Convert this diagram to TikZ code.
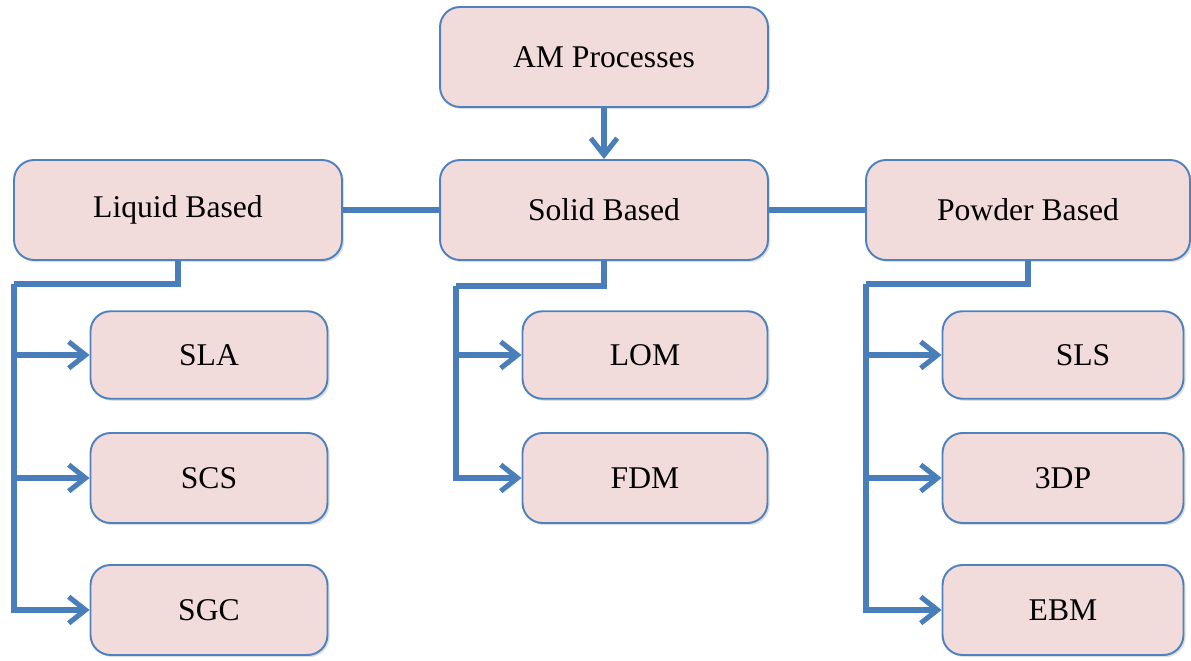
\documentclass[tikz,border=0pt]{standalone}
\usepackage{fontspec}
\setmainfont{Liberation Serif}
\usetikzlibrary{arrows.meta,shadows}
\definecolor{boxfill}{HTML}{F2DCDB}
\definecolor{boxline}{HTML}{4F81BD}
\definecolor{connline}{HTML}{4A7EBB}
\begin{document}
\begin{tikzpicture}[x=0.02cm, y=-0.02cm, font=\fontsize{18}{21}\selectfont,
	procbox/.style={draw=boxline, line width=1.1pt, fill=boxfill, rounded corners=0.4cm,
		drop shadow={opacity=0.25, shadow xshift=1.2pt, shadow yshift=-1.2pt}},
	bigbox/.style={procbox, minimum width=6.56cm, minimum height=2cm},
	smallbox/.style={procbox, minimum width=4.74cm, minimum height=1.75cm},
	conn/.style={draw=connline, line width=2.9pt},
	connarrow/.style={conn, -{Straight Barb[length=9.5pt, width=15pt]}}]
	\useasboundingbox (0,0) rectangle (1191,661);
	% top level
	\node[bigbox] (am) at (604,57) {AM Processes};
	\node[bigbox] (liquid) at (178,210) {Liquid Based};
	\node[bigbox] (solid) at (604,210) {Solid Based};
	\node[bigbox, minimum width=6.48cm] (powder) at (1028,210) {Powder Based};
	% processes
	\node[smallbox] (sla) at (209,355) {SLA};
	\node[smallbox, minimum height=1.8cm] (scs) at (209,478) {SCS};
	\node[smallbox, minimum height=1.8cm] (sgc) at (209,610) {SGC};
	\node[smallbox, minimum width=4.9cm] (lom) at (645,355) {LOM};
	\node[smallbox, minimum width=4.9cm, minimum height=1.8cm] (fdm) at (645,478) {FDM};
	\node[smallbox, minimum width=4.82cm] (sls) at (1063,355) {\hspace*{0.8cm}SLS};
	\node[smallbox, minimum width=4.82cm, minimum height=1.8cm] (tdp) at (1063,478) {3DP};
	\node[smallbox, minimum width=4.82cm, minimum height=1.8cm] (ebm) at (1063,610) {EBM};
	% links
	\draw[connarrow] (am) -- (solid);
	\draw[conn] (liquid) -- (solid);
	\draw[conn] (solid) -- (powder);
	% liquid branch
	\coordinate (lbus) at (14,284);
	\draw[conn] (liquid.south) |- (lbus);
	\draw[connarrow] (lbus) |- (sgc.west);
	\draw[connarrow] (lbus |- sla.west) -- (sla.west);
	\draw[connarrow] (lbus |- scs.west) -- (scs.west);
	% solid branch
	\coordinate (sbus) at (456,286);
	\draw[conn] (solid.south) |- (sbus);
	\draw[connarrow] (sbus) |- (fdm.west);
	\draw[connarrow] (sbus |- lom.west) -- (lom.west);
	% powder branch
	\coordinate (pbus) at (866,284);
	\draw[conn] (powder.south) |- (pbus);
	\draw[connarrow] (pbus) |- (ebm.west);
	\draw[connarrow] (pbus |- sls.west) -- (sls.west);
	\draw[connarrow] (pbus |- tdp.west) -- (tdp.west);
\end{tikzpicture}
\end{document}
